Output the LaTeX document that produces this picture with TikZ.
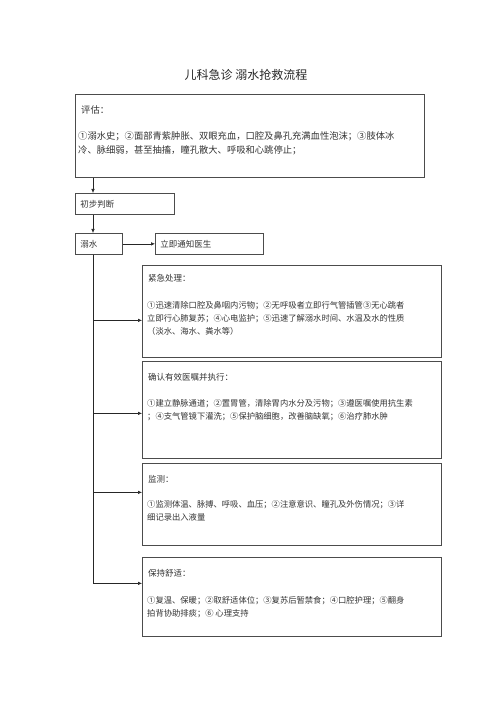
\documentclass[tikz,border=0pt]{standalone}
\usepackage{fontspec}
\newfontfamily\cjk{Noto Sans CJK SC}
\usetikzlibrary{arrows.meta}

\tikzset{
  box/.style={draw=black!70, line width=0.7pt, anchor=north west, inner sep=0pt},
  smallbox/.style={box, minimum height=21pt, inner xsep=5pt, align=left, font=\cjk\fontsize{8.5}{10}\selectfont, text=black!80},
  head/.style={anchor=west, inner sep=0pt, font=\cjk\fontsize{8.5}{10}\selectfont, text=black!80},
  body/.style={anchor=north west, inner sep=0pt, align=left, font=\cjk\fontsize{8.3}{13}\selectfont, text=black!80},
  arr/.style={-{Latex[length=4pt,width=3.5pt]}, line width=0.6pt, draw=black!85},
}

\begin{document}
\begin{tikzpicture}[x=1pt,y=-1pt]
\useasboundingbox (0,0) rectangle (500,708);

\node[font=\cjk\fontsize{12}{14}\selectfont, text=black!85] (title) at (246,75) {儿科急诊 溺水抢救流程};

% assessment
\node[box, minimum width=349pt, minimum height=83pt] (pinggu) at (75,94) {};
\node[head, font=\cjk\fontsize{9.3}{12}\selectfont] (pinggut) at (81,110) {评估：};
\node[body, font=\cjk\fontsize{9.3}{14}\selectfont] (pinggub) at (78,131.3)
  {①溺水史；②面部青紫肿胀、双眼充血，口腔及鼻孔充满血性泡沫；③肢体冰\\
   冷、脉细弱，甚至抽搐，瞳孔散大、呼吸和心跳停止；};

\node[smallbox, text width=89pt] (chubu) at (75,193) {初步判断};
\node[smallbox, text width=37pt] (nishui) at (75,233) {溺水};
\node[smallbox, text width=98pt] (tongzhi) at (155,233) {立即通知医生};

% emergency treatment
\node[box, minimum width=299pt, minimum height=92pt] (jinji) at (142,265) {};
\node[head] (jinjit) at (148,278) {紧急处理：};
\node[body] (jinjib) at (147,301)
  {①迅速清除口腔及鼻咽内污物；②无呼吸者立即行气管插管③无心跳者\\
   立即行心肺复苏；④心电监护；⑤迅速了解溺水时间、水温及水的性质\\
   （淡水、海水、粪水等）};

% orders
\node[box, minimum width=299pt, minimum height=97pt] (queren) at (142,361) {};
\node[head] (querent) at (148,377) {确认有效医嘱并执行：};
\node[body] (querenb) at (147,399)
  {①建立静脉通道；②置胃管，清除胃内水分及污物；③遵医嘱使用抗生素\\
   ；④支气管镜下灌洗；⑤保护脑细胞，改善脑缺氧；⑥治疗肺水肿};

% monitoring
\node[box, minimum width=299pt, minimum height=82pt] (jiance) at (142,463) {};
\node[head] (jiancet) at (148,479) {监测：};
\node[body] (jianceb) at (147,500)
  {①监测体温、脉搏、呼吸、血压；②注意意识、瞳孔及外伤情况；③详\\
   细记录出入液量};

% comfort
\node[box, minimum width=299pt, minimum height=79pt] (baochi) at (142,557) {};
\node[head] (baochit) at (148,573) {保持舒适：};
\node[body] (baochib) at (147,596)
  {①复温、保暖；②取舒适体位；③复苏后暂禁食；④口腔护理；⑤翻身\\
   拍背协助排痰；⑥ 心理支持};

\coordinate (trunk) at (93,0);
\draw[arr] (pinggu.south -| trunk) -- (chubu.north -| trunk);
\draw[arr] (chubu.south -| trunk) -- (nishui.north -| trunk);
\draw[arr] (nishui) -- (tongzhi);
\draw[arr] (nishui.south -| trunk) |- ([yshift=-9pt]jinji.west);
\draw[arr] (nishui.south -| trunk) |- ([yshift=-3.5pt]queren.west);
\draw[arr] (nishui.south -| trunk) |- ([yshift=12pt]jiance.west);
\draw[arr] (nishui.south -| trunk) |- ([yshift=13.5pt]baochi.west);
\end{tikzpicture}
\end{document}
